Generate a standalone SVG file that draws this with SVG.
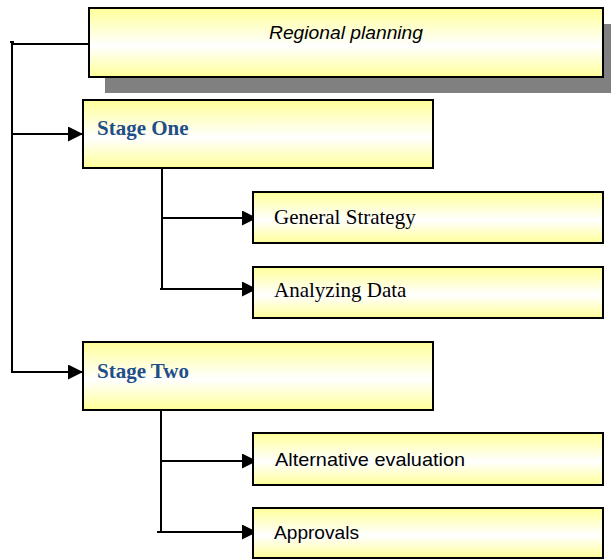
<svg xmlns="http://www.w3.org/2000/svg" width="611" height="560" viewBox="0 0 611 560">
<defs>
<linearGradient id="yg" x1="0" y1="0" x2="0" y2="1">
<stop offset="0" stop-color="#FFFF99"/>
<stop offset="0.55" stop-color="#FFFFFF"/>
<stop offset="1" stop-color="#FFFF99"/>
</linearGradient>
<marker id="arr" markerUnits="userSpaceOnUse" viewBox="0 0 15 15" refX="15" refY="7.5" markerWidth="15" markerHeight="15" orient="auto">
<path d="M0,0 L15,7.5 L0,15 z" fill="#000"/>
</marker>
<style>
.box{fill:url(#yg);stroke:#000;stroke-width:2}
.shadow{fill:#808080}
.ln{fill:none;stroke:#000;stroke-width:2}
.stage{font-family:"Liberation Serif","Times New Roman",serif;font-weight:bold;font-size:21px;fill:#1F4E89}
.serif{font-family:"Liberation Serif","Times New Roman",serif;font-size:21px;fill:#000}
.sans{font-family:"Liberation Sans",Arial,sans-serif;font-size:19px;fill:#000}
</style>
</defs>
<rect width="611" height="560" fill="#fff"/>
<g id="connectors">
<path class="ln" d="M12,43 V373"/>
<path class="ln" d="M10,42 H14"/>
<path class="ln" d="M12,44 H89"/>
<path class="ln" d="M12,134 H83" marker-end="url(#arr)"/>
<path class="ln" d="M12,372 H83" marker-end="url(#arr)"/>
<path class="ln" d="M162,168 V289"/>
<path class="ln" d="M162,218 H257" marker-end="url(#arr)"/>
<path class="ln" d="M160,289 H257" marker-end="url(#arr)"/>
<path class="ln" d="M161,410 V532"/>
<path class="ln" d="M161,461 H257" marker-end="url(#arr)"/>
<path class="ln" d="M157,532 H257" marker-end="url(#arr)"/>
</g>
<g id="regional-planning">
<rect class="shadow" x="105" y="24" width="514" height="69"/>
<rect class="box" x="89" y="8" width="514" height="69"/>
<text class="sans" x="346" y="39" text-anchor="middle" font-style="italic" textLength="154" lengthAdjust="spacingAndGlyphs">Regional planning</text>
</g>
<g id="stage-one">
<rect class="box" x="83" y="100" width="350" height="68"/>
<text class="stage" x="97" y="135">Stage One</text>
</g>
<g id="general-strategy">
<rect class="box" x="253" y="192" width="350" height="51"/>
<text class="serif" x="274" y="224">General Strategy</text>
</g>
<g id="analyzing-data">
<rect class="box" x="253" y="267" width="350" height="51"/>
<text class="serif" x="274" y="297">Analyzing Data</text>
</g>
<g id="stage-two">
<rect class="box" x="83" y="342" width="350" height="68"/>
<text class="stage" x="97" y="378">Stage Two</text>
</g>
<g id="alternative-evaluation">
<rect class="box" x="253" y="433" width="350" height="52"/>
<text class="sans" x="275" y="466" textLength="190" lengthAdjust="spacingAndGlyphs">Alternative evaluation</text>
</g>
<g id="approvals">
<rect class="box" x="253" y="508" width="350" height="50"/>
<text class="sans" x="274" y="539" textLength="85" lengthAdjust="spacingAndGlyphs">Approvals</text>
</g>
</svg>
